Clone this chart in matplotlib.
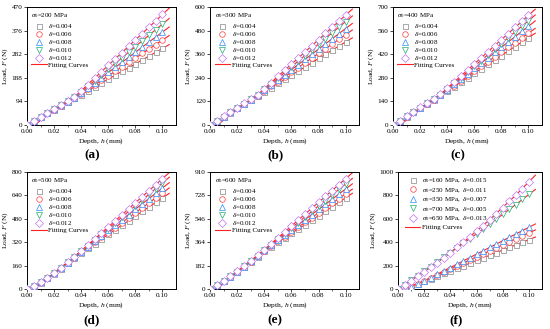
"""
Curvas carga-profundidad (F-h) con ajuste, seis paneles.
"""

import matplotlib
matplotlib.use('Agg')
import matplotlib.pyplot as plt
from matplotlib.lines import Line2D

plt.rcParams['font.family'] = 'Liberation Serif'
plt.rcParams['mathtext.fontset'] = 'custom'
plt.rcParams['mathtext.rm'] = 'Liberation Serif'
plt.rcParams['mathtext.it'] = 'Liberation Serif:italic'

# profundidad de los puntos medidos (mm)
depth = [0.000, 0.005, 0.010, 0.015, 0.020, 0.025, 0.030, 0.035, 0.040, 0.045, 0.050,
         0.055, 0.060, 0.065, 0.070, 0.075, 0.080, 0.085, 0.090, 0.095, 0.100]
# profundidad de las curvas de ajuste (mm)
fit_depth = [0.005, 0.020, 0.035, 0.050, 0.070, 0.090, 0.105]

delta_labels = ['0.004', '0.006', '0.008', '0.010', '0.012']
sigma_labels = ['200', '300', '400', '500', '600']
mixed_labels = [('160', '0.015'), ('250', '0.011'), ('350', '0.007'),
                ('700', '0.005'), ('650', '0.013')]

yticks_a = [0, 94, 188, 282, 376, 470]
yticks_b = [0, 120, 240, 360, 480, 600]
yticks_c = [0, 140, 280, 420, 560, 700]
yticks_d = [0, 160, 320, 480, 640, 800]
yticks_e = [0, 182, 364, 546, 728, 910]
yticks_f = [0, 200, 400, 600, 800, 1000]

# carga medida (N) - sigma0 = 200 MPa
load_a = [
    [0, 15, 30, 46, 61, 76, 91, 106, 121, 137, 152, 167, 183, 198, 213, 228, 244, 259, 274, 290, 305],
    [0, 15, 31, 46, 61, 77, 92, 107, 125, 143, 160, 178, 196, 214, 231, 249, 267, 285, 302, 320, 338],
    [0, 16, 31, 47, 62, 78, 93, 109, 129, 149, 169, 189, 209, 229, 249, 269, 290, 310, 330, 350, 370],
    [0, 16, 31, 47, 63, 78, 94, 110, 132, 155, 177, 200, 222, 245, 267, 290, 312, 335, 357, 380, 402],
    [0, 16, 32, 47, 63, 79, 95, 111, 136, 161, 187, 212, 237, 263, 288, 313, 339, 364, 389, 415, 440],
]
fit_a = [
    [0, 57, 106, 152, 213, 274, 320],
    [0, 58, 107, 160, 231, 302, 356],
    [0, 59, 109, 169, 249, 330, 390],
    [0, 60, 110, 177, 267, 357, 424],
    [0, 61, 111, 187, 288, 389, 465],
]

# sigma0 = 300 MPa
load_b = [
    [0, 21, 42, 63, 84, 105, 126, 148, 169, 190, 211, 232, 253, 274, 295, 316, 338, 359, 380, 401, 422],
    [0, 21, 43, 64, 85, 106, 128, 149, 173, 197, 221, 244, 268, 292, 316, 340, 364, 388, 411, 435, 459],
    [0, 22, 43, 65, 86, 108, 129, 151, 177, 203, 229, 255, 281, 307, 333, 359, 386, 412, 438, 464, 490],
    [0, 22, 43, 65, 87, 109, 130, 152, 181, 209, 238, 267, 295, 324, 353, 382, 410, 439, 468, 496, 525],
    [0, 22, 44, 66, 88, 110, 132, 154, 185, 216, 247, 278, 309, 340, 371, 402, 434, 465, 496, 527, 558],
]
fit_b = [
    [0, 80, 148, 211, 295, 380, 443],
    [0, 81, 149, 221, 316, 411, 483],
    [0, 82, 151, 229, 333, 438, 516],
    [0, 83, 152, 238, 353, 468, 554],
    [0, 84, 154, 247, 371, 496, 589],
]

# sigma0 = 400 MPa
load_c = [
    [0, 25, 50, 75, 100, 125, 150, 175, 201, 228, 254, 281, 307, 333, 360, 386, 412, 439, 465, 492, 518],
    [0, 25, 50, 76, 101, 126, 151, 177, 205, 234, 262, 290, 319, 347, 375, 404, 432, 460, 488, 517, 545],
    [0, 26, 51, 77, 102, 128, 153, 179, 210, 242, 273, 304, 336, 367, 398, 430, 461, 492, 523, 555, 586],
    [0, 26, 52, 77, 103, 129, 155, 180, 214, 247, 281, 315, 348, 382, 416, 450, 483, 517, 551, 584, 618],
    [0, 26, 52, 78, 104, 130, 156, 182, 218, 254, 290, 326, 362, 398, 434, 470, 506, 542, 578, 614, 650],
]
fit_c = [
    [0, 95, 175, 254, 360, 465, 544],
    [0, 96, 177, 262, 375, 488, 573],
    [0, 97, 179, 273, 398, 523, 617],
    [0, 98, 180, 281, 416, 551, 652],
    [0, 99, 182, 290, 434, 578, 686],
]

# sigma0 = 500 MPa
load_d = [
    [0, 20, 44, 74, 105, 140, 176, 213, 249, 280, 311, 343, 374, 405, 436, 467, 498, 530, 561, 592, 623],
    [0, 20, 45, 74, 106, 142, 178, 215, 251, 285, 319, 353, 386, 420, 454, 488, 522, 556, 589, 623, 657],
    [0, 20, 45, 75, 107, 143, 180, 217, 254, 290, 327, 363, 400, 436, 473, 509, 545, 582, 618, 655, 691],
    [0, 20, 45, 76, 108, 144, 182, 219, 257, 296, 335, 374, 413, 452, 491, 530, 569, 608, 647, 686, 725],
    [0, 20, 46, 77, 109, 146, 184, 221, 259, 300, 342, 383, 424, 466, 507, 548, 590, 631, 672, 714, 755],
]
fit_d = [
    [0, 105, 213, 311, 436, 561, 654],
    [0, 106, 215, 319, 454, 589, 691],
    [0, 107, 217, 327, 473, 618, 727],
    [0, 108, 219, 335, 491, 647, 764],
    [0, 109, 221, 342, 507, 672, 796],
]

# sigma0 = 600 MPa
load_e = [
    [0, 28, 61, 95, 132, 171, 211, 252, 294, 329, 363, 398, 432, 467, 501, 536, 571, 605, 640, 674, 709],
    [0, 29, 61, 96, 134, 172, 213, 254, 297, 334, 371, 408, 445, 482, 518, 555, 592, 629, 666, 703, 740],
    [0, 29, 62, 97, 135, 174, 215, 257, 300, 340, 380, 420, 459, 499, 539, 579, 619, 658, 698, 738, 778],
    [0, 29, 63, 98, 136, 176, 217, 260, 303, 346, 389, 431, 474, 517, 560, 603, 646, 688, 731, 774, 817],
    [0, 30, 63, 99, 138, 177, 219, 262, 306, 352, 398, 444, 490, 536, 582, 628, 674, 720, 766, 812, 858],
]
fit_e = [
    [0, 132, 252, 363, 501, 640, 744],
    [0, 134, 254, 371, 518, 666, 777],
    [0, 135, 257, 380, 539, 698, 818],
    [0, 136, 260, 389, 560, 731, 860],
    [0, 138, 262, 398, 582, 766, 904],
]

# combinaciones sigma0 / delta
load_f = [
    [0, 4, 21, 44, 66, 88, 110, 133, 155, 177, 199, 222, 244, 266, 288, 311, 333, 355, 377, 400, 422],
    [0, 3, 20, 46, 71, 97, 122, 148, 173, 199, 224, 250, 275, 301, 326, 352, 377, 403, 428, 454, 479],
    [0, 2, 15, 40, 69, 97, 126, 155, 183, 212, 241, 269, 298, 327, 355, 384, 413, 441, 470, 499, 527],
    [0, 38, 76, 114, 153, 192, 231, 270, 310, 350, 390, 431, 471, 512, 554, 596, 637, 680, 722, 765, 808],
    [0, 35, 71, 108, 146, 186, 226, 268, 311, 355, 400, 446, 494, 542, 592, 643, 695, 748, 803, 858, 915],
]
fit_f = [
    [0, 66, 133, 199, 288, 377, 444],
    [0, 71, 148, 224, 326, 428, 505],
    [0, 69, 155, 241, 355, 470, 556],
    [38, 153, 270, 390, 554, 722, 851],
    [35, 146, 268, 400, 592, 803, 973],
]

COLORS = ['#858585', '#ff3b3b', '#2b8cff', '#1fb06e', '#c174f2']
MARKERS = ['s', 'o', '^', 'v', 'D']
MSIZE = [3.6, 4.0, 4.0, 4.0, 3.6]
FIT_RED = '#ff2222'
FS = 5.0


def draw_panel(fig, rect, loads, fits, labels, yticks, title, tag, tag_x, tag_y,
               anchor=(0.03, 0.965), spacing=0.0):
    ax = fig.add_axes(rect)
    for i in range(5):
        ax.plot(fit_depth, fits[i], '-', color=FIT_RED, lw=0.8, zorder=2)
    for i in range(5):
        ax.plot(depth, loads[i], ls='none', marker=MARKERS[i], ms=MSIZE[i],
                mfc='white', mec=COLORS[i], mew=0.5, zorder=3)

    handles = [Line2D([], [], ls='none', marker=MARKERS[i], ms=MSIZE[i], mfc='white',
                      mec=COLORS[i], mew=0.5) for i in range(5)]
    handles.append(Line2D([], [], color=FIT_RED, lw=0.8))
    leg = ax.legend(handles, labels + ['Fitting Curves'], loc='upper left',
                    bbox_to_anchor=anchor, frameon=False, fontsize=FS,
                    title=title, title_fontsize=FS, alignment='left',
                    handlelength=2.2, handletextpad=0.25, labelspacing=spacing,
                    borderaxespad=0, borderpad=0)
    leg._legend_box.sep = 1.5

    ax.set_xlim(0, 0.11)
    ax.set_ylim(yticks[0], yticks[-1])
    ax.set_xticks([0.0, 0.02, 0.04, 0.06, 0.08, 0.10])
    ax.set_xticklabels(['0.00', '0.02', '0.04', '0.06', '0.08', '0.10'])
    ax.set_xticks([0.01, 0.03, 0.05, 0.07, 0.09], minor=True)
    ax.set_yticks(yticks)
    ax.tick_params(direction='out', length=2, width=0.5, labelsize=5.2, pad=1.2)
    ax.tick_params(which='minor', direction='out', length=1.2, width=0.4)
    for sp in ax.spines.values():
        sp.set_linewidth(0.7)
    ax.set_xlabel('Depth, $h$ (mm)', fontsize=5.4, labelpad=1)
    ax.set_ylabel('Load, $F$ (N)', fontsize=5.4, labelpad=1.2)
    fig.text(tag_x, tag_y, tag, ha='center', va='center', fontsize=9.5, fontweight='bold')
    return ax


fig = plt.figure(figsize=(5.5, 3.29), dpi=100)

delta_text = [r'$\delta$=' + d for d in delta_labels]
top, bot = 0.620, 0.1216
h_top, h_bot = 0.359, 0.3556
w = 0.271

panels = [
    ([0.049, top, w, h_top], load_a, fit_a, yticks_a, sigma_labels[0], '(a)', 0.167, 0.529),
    ([0.382, top, w, h_top], load_b, fit_b, yticks_b, sigma_labels[1], '(b)', 0.500, 0.529),
    ([0.7145, top, w, h_top], load_c, fit_c, yticks_c, sigma_labels[2], '(c)', 0.833, 0.529),
    ([0.049, bot, w, h_bot], load_d, fit_d, yticks_d, sigma_labels[3], '(d)', 0.167, 0.027),
    ([0.382, bot, w, h_bot], load_e, fit_e, yticks_e, sigma_labels[4], '(e)', 0.500, 0.027),
]
for rect, loads, fits, yt, sig, tag, tx, ty in panels:
    draw_panel(fig, rect, loads, fits, delta_text, yt,
               r'$\sigma_0$=' + sig + ' MPa', tag, tx, ty)

mixed_text = [r'$\sigma_0$=' + s + r' MPa,  $\delta$=' + d for s, d in mixed_labels]
ax_f = draw_panel(fig, [0.7236, bot, 0.2618, h_bot], load_f, fit_f, mixed_text, yticks_f,
                  None, '(f)', 0.829, 0.027, anchor=(0.05, 0.965), spacing=0.12)

fig.savefig('out.png', dpi=100)
print('Saved out.png')
